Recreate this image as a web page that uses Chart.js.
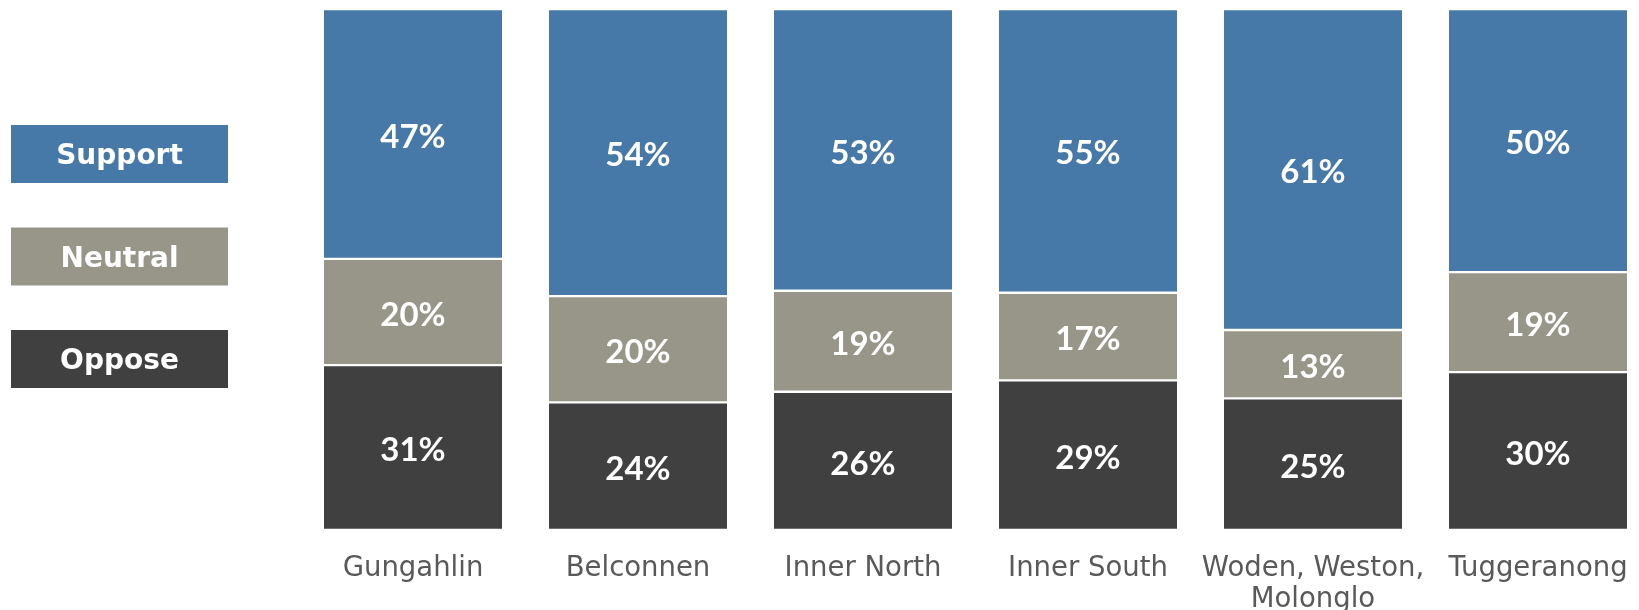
<!DOCTYPE html>
<html>
<head>
<meta charset="utf-8">
<script src="https://cdn.jsdelivr.net/npm/chart.js@4.4.0/dist/chart.umd.min.js"></script>
<style>
	html, body { margin: 0; padding: 0; background: #fff; }
	#wrap { width: 1639px; height: 610px; }
</style>
</head>
<body>
<div id="wrap"><canvas id="myChart" width="1639" height="610"></canvas></div>
<script>
// regions
var categories = ['Gungahlin', 'Belconnen', 'Inner North', 'Inner South', ['Woden, Weston,', 'Molonglo'], 'Tuggeranong'];

// percentages as printed on the bars
var support = [47, 54, 53, 55, 61, 50];
var neutral = [20, 20, 19, 17, 13, 19];
var oppose = [31, 24, 26, 29, 25, 30];

var seriesNames = ['Oppose', 'Neutral', 'Support'];
var seriesColors = ['#404040', '#989689', '#4678a8'];

// 100% stacked: every column is scaled to its own total
function share(values, i) {
	var total = support[i] + neutral[i] + oppose[i];
	return values[i] / total * 100;
}

function makeSet(name, values, color) {
	return {
		label: name,
		raw: values,
		data: values.map(function(v, i) { return share(values, i); }),
		backgroundColor: color,
		borderColor: '#ffffff',
		borderWidth: { top: 1.5, bottom: 1.5, left: 0, right: 0 },
		borderSkipped: false,
		barThickness: 178,
		clip: false
	};
}

// white numbers in the middle of each block
var barLabels = {
	id: 'barLabels',
	afterDatasetsDraw: function(chart) {
		var ctx = chart.ctx;
		ctx.save();
		ctx.fillStyle = '#ffffff';
		ctx.font = 'bold 33px Lato';
		ctx.textAlign = 'center';
		ctx.textBaseline = 'middle';
		chart.data.datasets.forEach(function(ds, di) {
			var meta = chart.getDatasetMeta(di);
			meta.data.forEach(function(bar, i) {
				var y = (bar.y + bar.base) / 2;
				ctx.fillText(ds.raw[i] + '%', bar.x, y + 3);
			});
		});
		ctx.restore();
	}
};

// big coloured legend boxes on the left, top to bottom = Support, Neutral, Oppose
var boxLegend = {
	id: 'boxLegend',
	afterDraw: function(chart) {
		var ctx = chart.ctx;
		var sets = chart.data.datasets.slice().reverse();
		ctx.save();
		sets.forEach(function(ds, k) {
			var top = 125 + k * 102.5;
			ctx.fillStyle = ds.backgroundColor;
			ctx.fillRect(11, top, 217, 58);
			ctx.fillStyle = '#ffffff';
			ctx.font = 'bold 28px "DejaVu Sans"';
			ctx.textAlign = 'center';
			ctx.textBaseline = 'middle';
			ctx.fillText(ds.label, 119.5, top + 32);
		});
		ctx.restore();
	}
};

new Chart(document.getElementById('myChart'), {
	type: 'bar',
	data: {
		labels: categories,
		datasets: [
			makeSet(seriesNames[0], oppose, seriesColors[0]),
			makeSet(seriesNames[1], neutral, seriesColors[1]),
			makeSet(seriesNames[2], support, seriesColors[2])
		]
	},
	options: {
		responsive: false,
		animation: false,
		layout: { padding: { left: 413, right: 101, top: 9, bottom: 0 } },
		plugins: {
			legend: { display: false },
			tooltip: { enabled: false }
		},
		scales: {
			x: {
				stacked: true,
				offset: false,
				grid: { display: false },
				border: { display: false },
				ticks: {
					color: '#595959',
					padding: 15,
					font: { family: 'DejaVu Sans', size: 27.5, lineHeight: '31px' },
					maxRotation: 0,
					autoSkip: false
				},
				afterFit: function(scale) {
					scale.height = 80;
					scale.paddingLeft = 0;
					scale.paddingRight = 0;
				}
			},
			y: {
				stacked: true,
				display: false,
				min: 0,
				max: 100
			}
		}
	},
	plugins: [barLabels, boxLegend]
});
</script>
</body>
</html>
